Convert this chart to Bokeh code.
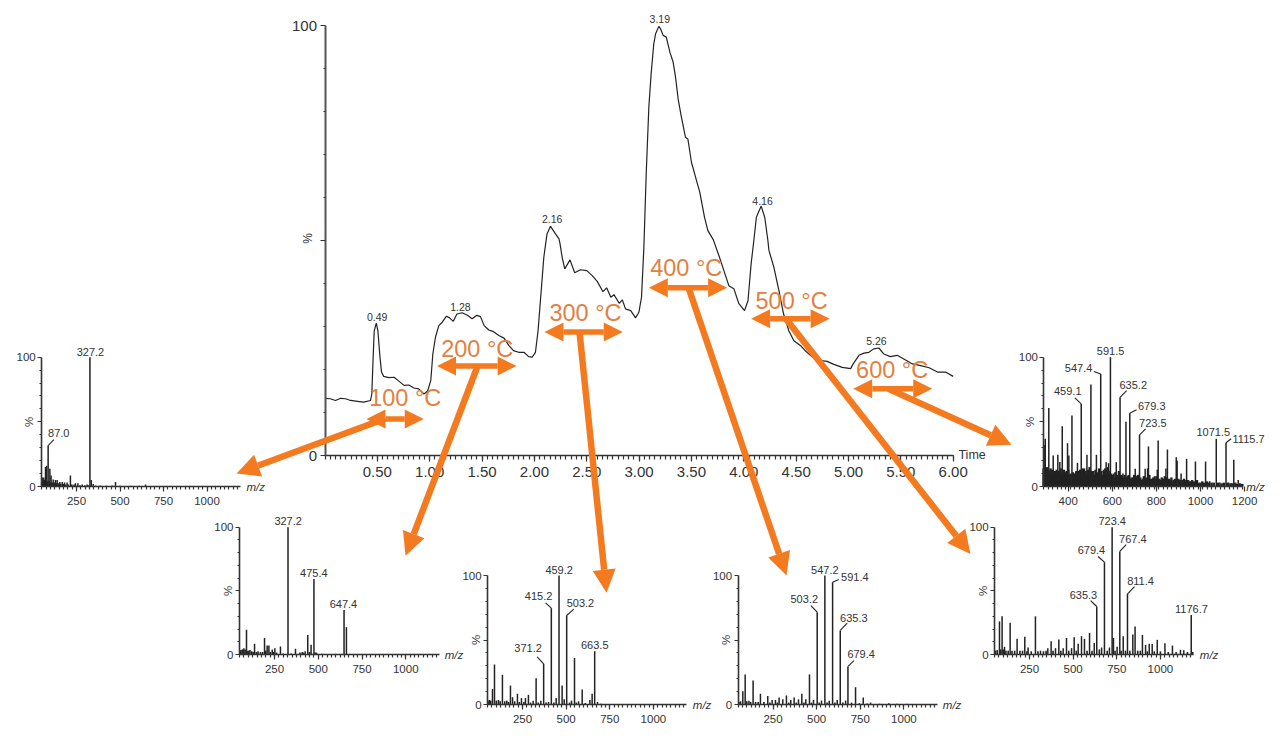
from bokeh.core.properties import value
from bokeh.embed import file_html
from bokeh.models import Arrow, FixedTicker, LinearAxis, NormalHead, NumeralTickFormatter, Range1d
from bokeh.plotting import figure
from bokeh.resources import INLINE

# chromatogram (time in min, relative intensity in %)
tic_time = [0.00, 0.05, 0.10, 0.15, 0.195, 0.245, 0.31, 0.37, 0.435, 0.447, 0.46, 0.47, 0.49, 0.505, 0.525, 0.54,
            0.56, 0.61, 0.66, 0.705, 0.755, 0.80, 0.85, 0.895, 0.945, 0.98, 1.01, 1.03, 1.055, 1.087, 1.12, 1.16,
            1.19, 1.225, 1.26, 1.31, 1.36, 1.405, 1.45, 1.485, 1.52, 1.565, 1.61, 1.66, 1.71, 1.755, 1.80, 1.85,
            1.90, 1.945, 1.98, 2.01, 2.035, 2.06, 2.09, 2.12, 2.154, 2.20, 2.235, 2.245, 2.265, 2.29, 2.34, 2.385,
            2.44, 2.50, 2.55, 2.60, 2.655, 2.69, 2.73, 2.76, 2.81, 2.84, 2.87, 2.92, 2.966, 2.998, 3.023, 3.045,
            3.068, 3.093, 3.115, 3.14, 3.157, 3.188, 3.205, 3.23, 3.26, 3.294, 3.325, 3.348, 3.373, 3.402, 3.443,
            3.466, 3.50, 3.54, 3.58, 3.625, 3.657, 3.708, 3.762, 3.81, 3.857, 3.905, 3.953, 4.007, 4.04, 4.07,
            4.096, 4.12, 4.166, 4.20, 4.23, 4.24, 4.287, 4.335, 4.38, 4.43, 4.478, 4.54, 4.59, 4.65, 4.717, 4.796,
            4.86, 4.94, 5.02, 5.045, 5.10, 5.147, 5.195, 5.24, 5.29, 5.338, 5.40, 5.465, 5.545, 5.61, 5.69, 5.77,
            5.85, 5.926, 6.00]
tic_pct = [13.3, 13.2, 12.8, 13.3, 13.2, 12.8, 12.6, 12.4, 12.8, 14.3, 22.9, 29.0, 30.8, 29.0, 22.9, 19.4,
           18.4, 18.1, 18.2, 17.3, 16.3, 16.4, 15.7, 15.5, 14.3, 15.0, 17.4, 23.6, 27.5, 30.2, 31.0, 32.4,
           32.0, 31.2, 32.9, 33.2, 32.6, 31.8, 32.6, 32.3, 30.2, 29.2, 28.8, 27.9, 27.3, 25.6, 24.4, 24.0,
           24.0, 23.0, 22.9, 24.0, 29.0, 36.8, 46.1, 51.5, 53.3, 51.6, 50.4, 49.2, 46.1, 43.4, 45.5, 42.5,
           43.2, 43.0, 41.9, 40.5, 38.1, 39.0, 36.8, 37.4, 35.4, 36.2, 34.1, 33.7, 32.0, 33.3, 36.8, 48.0,
           65.5, 81.0, 88.8, 95.7, 98.0, 99.8, 99.2, 97.7, 97.3, 93.8, 91.5, 88.0, 82.9, 79.0, 74.0,
           73.6, 68.2, 64.7, 61.2, 55.4, 52.3, 50.2, 46.5, 43.0, 39.5, 38.8, 35.3, 33.7, 36.0, 44.6,
           50.0, 55.4, 58.0, 55.4, 50.0, 47.7, 43.8, 38.4, 32.9, 29.0, 26.7, 25.6, 24.3, 23.0, 22.1, 21.9,
           21.2, 20.5, 20.2, 21.3, 23.3, 23.8, 24.0, 24.8, 25.0, 23.6, 23.0, 23.3, 22.2, 21.3, 20.9, 20.4,
           19.4, 19.4, 18.4]
tic_label_text = ["0.49", "1.28", "2.16", "3.19", "4.16", "5.26"]
tic_label_time = [0.498, 1.294, 2.17, 3.198, 4.179, 5.267]
tic_label_pct = [32.3, 34.5, 54.9, 101.4, 59.3, 26.7]

# temperature steps: text, span of the double arrow, end of the long arrow
temp_text = ["100 °C", "200 °C", "300 °C", "400 °C", "500 °C", "600 °C"]
temp_text_time = [0.766, 1.454, 2.488, 3.45, 4.456, 5.417]
temp_text_pct = [13.3, 24.8, 33.1, 43.6, 36.0, 19.8]
span_start = [0.396, 1.07, 2.096, 3.093, 4.07, 5.045]
span_end = [0.943, 1.83, 2.844, 3.841, 4.82, 5.80]
span_pct = [8.5, 20.8, 28.7, 39.0, 31.8, 15.5]
link_start_time = [0.578, 1.456, 2.431, 3.472, 4.398, 5.382]
link_start_pct = [8.6, 20.7, 28.6, 39.0, 31.9, 15.5]
link_end_time = [-0.845, 0.769, 2.689, 4.408, 6.165, 6.557]
link_end_pct = [-4.2, -23.3, -31.9, -27.9, -22.9, 2.5]

# spectrum at 100 C
s1_mz = [53, 62, 72, 78, 87.0, 97, 104, 116, 129, 139, 154, 168, 181, 196, 215, 244, 258, 283, 311, 327.2, 335, 346, 474, 647]
s1_pct = [7, 7, 15, 16, 31.7, 13.7, 8.5, 5.5, 5, 5, 3.5, 3.5, 3, 3, 8.5, 2.5, 2.5, 1.5, 1.5, 100, 5, 2, 3.4, 1.5]
s1_grass_mz = [50, 57, 67, 83, 92, 101, 110, 122, 134, 146, 160, 175, 188, 203, 223, 236, 270, 298, 320, 360, 385, 420, 455, 500, 560, 610, 690, 780]
s1_grass_pct = [3, 4, 5, 4, 4, 3, 3, 3, 2.5, 2.5, 2, 2, 1.5, 1.5, 1.5, 1.5, 1, 1, 1, 0.8, 0.8, 0.6, 0.8, 0.6, 0.5, 0.5, 0.4, 0.4]
s1_text = ["327.2", "87.0"]
s1_text_mz = [330, 148]
s1_text_pct = [104.4, 41.5]
s1_leader_mz = [87.0]
s1_leader_pct = [31.7]
s1_leader_end_mz = [120]
s1_leader_end_pct = [36.3]

# spectrum at 200 C
s2_mz = [65, 75, 90, 110, 136, 193, 208, 218, 237, 252, 284, 327.2, 370, 408, 425, 440, 459, 475.4, 490, 647.4, 661]
s2_pct = [4, 5, 19.4, 3.5, 8.4, 13, 7, 7, 4, 5, 6.3, 100, 4.5, 2, 2.5, 15.4, 7.6, 59.4, 1.5, 35, 21.5]
s2_grass_mz = [52, 58, 70, 82, 98, 104, 120, 128, 146, 156, 170, 182, 200, 226, 244, 262, 300, 345, 395, 415, 450, 482, 520, 600, 680]
s2_grass_pct = [3, 3.5, 4, 4, 3, 3, 2.5, 2, 2, 2.5, 2, 2, 3, 2, 2, 1.5, 0.8, 0.8, 1.5, 1.5, 2, 1.5, 0.6, 0.5, 0.5]
s2_text = ["327.2", "475.4", "647.4"]
s2_text_mz = [328, 475, 644]
s2_text_pct = [105, 64, 39.5]

# spectrum at 300 C
s3_mz = [78, 89.5, 135, 181, 193, 221, 244, 267, 284, 311, 328, 355, 371.2, 399, 415.2, 443, 459.2, 477, 489,
         503.2, 531, 548, 571, 592, 636, 649, 663.5, 680]
s3_pct = [12, 31, 23, 14.7, 5.7, 8.3, 5, 5, 7.5, 3, 20.4, 3, 31.5, 2, 74.7, 5, 100, 14.7, 4,
          69, 3, 36, 2.5, 11.6, 3.5, 8.3, 41.3, 2]
s3_grass_mz = [52, 60, 68, 100, 112, 122, 148, 160, 170, 205, 232, 258, 296, 340, 385, 430, 520, 558, 610, 700]
s3_grass_pct = [3, 3.5, 3, 3, 3.5, 2.5, 2.5, 3, 2, 2.5, 2, 2, 1.5, 1.5, 1.5, 1.5, 1.5, 1.5, 1.2, 0.5]
s3_text = ["459.2", "415.2", "503.2", "371.2", "663.5"]
s3_text_mz = [460, 342, 582, 282, 664]
s3_text_pct = [104.4, 84, 79, 43.7, 46]
s3_leader_mz = [415.2, 503.2, 371.2]
s3_leader_pct = [74.7, 69, 31.5]
s3_leader_end_mz = [382, 544, 334]
s3_leader_end_pct = [78.8, 74, 37]

# spectrum at 400 C
s4_mz = [77, 90.5, 112, 136, 178, 220, 245, 264, 285, 306, 327, 352, 371, 396, 415, 438, 459, 482, 503.2, 528,
         547.2, 572, 591.4, 618, 635.3, 666, 679.4, 723, 767, 809, 914]
s4_pct = [10.3, 23.3, 3, 18.6, 8.3, 6.5, 3.5, 3.5, 5.5, 4, 7, 3.5, 5.5, 4, 8.3, 4, 23.3, 3.5, 71.6, 3,
          100, 3, 94.8, 3.5, 57.4, 3, 29.5, 13.4, 5.4, 1.5, 1]
s4_grass_mz = [55, 64, 100, 122, 150, 165, 198, 232, 275, 340, 383, 427, 470, 515, 560, 605, 650, 700, 745, 790, 860, 960, 1020]
s4_grass_pct = [2, 2.5, 2.5, 2, 2, 2, 2, 1.5, 1.5, 1.5, 1.5, 1.5, 1.5, 1.5, 1.5, 1.5, 1.5, 1.5, 1, 0.8, 0.6, 0.5, 0.5]
s4_text = ["547.2", "591.4", "503.2", "635.3", "679.4"]
s4_text_mz = [547, 719, 429, 713, 755]
s4_text_pct = [104.4, 99.2, 81.4, 67.4, 39.5]
s4_leader_mz = [591.4, 503.2, 635.3, 679.4]
s4_leader_pct = [94.8, 71.6, 57.4, 29.5]
s4_leader_end_mz = [627, 467, 675, 714]
s4_leader_end_pct = [96.9, 76.7, 63, 34]

# spectrum at 500 C
s5_mz = [78, 93, 107, 139, 179, 223, 242, 284, 313, 355, 374, 399, 418, 443, 462, 491, 506, 529, 548, 565, 594,
         621, 635.3, 663, 679.4, 708, 723.4, 731, 752, 767.4, 787, 811.4, 842, 855, 897, 915, 936, 953, 982,
         1026, 1069, 1115, 1134, 1176.7]
s5_pct = [26, 30, 6, 25, 12.3, 14, 5.5, 30, 3, 5, 10.5, 5, 11.8, 5, 13, 5, 13.6, 8.4, 14.4, 12.3, 17,
          9, 37.7, 5.5, 72.5, 5.5, 100, 13, 6, 81, 14.4, 47.6, 15.7, 22, 15.4, 7.6, 8.5, 8.3, 11.5,
          8.9, 7, 3.7, 3.3, 31]
s5_grass_mz = [55, 65, 85, 100, 115, 128, 150, 165, 195, 210, 235, 260, 298, 330, 345, 385, 430, 475, 518, 580, 608, 650, 695, 740, 775, 800, 825, 870, 885, 925, 965, 1000, 1045, 1090, 1155, 1185]
s5_grass_pct = [3, 3.5, 4, 4, 3, 3, 3, 3, 3, 3, 2.5, 2.5, 2.5, 2.5, 3, 3, 3, 3, 3, 3, 3, 4, 3, 3, 3, 3, 3, 3, 3, 2.5, 2.5, 2.5, 2, 2, 2, 2]
s5_text = ["723.4", "767.4", "679.4", "811.4", "635.3", "1176.7"]
s5_text_mz = [724, 842, 605, 886, 559, 1178]
s5_text_pct = [105, 90.8, 81.7, 58, 47, 35.6]
s5_leader_mz = [767.4, 679.4, 811.4, 635.3]
s5_leader_pct = [81, 72.5, 47.6, 37.7]
s5_leader_end_mz = [804, 643, 852, 600]
s5_leader_end_pct = [86.4, 77, 53.4, 42.4]

# spectrum at 600 C
s6_mz = [291, 296, 312, 332, 353, 362, 373, 397, 403, 417, 433, 442, 459.1, 474, 485, 503, 516, 528, 547.4, 560,
         572, 583, 591.5, 606, 618, 635.2, 648, 662, 679.3, 690, 704, 723.5, 735, 749, 760, 764, 791, 804, 808,
         826, 843, 850, 872, 890, 894, 912, 937, 956, 977, 1000, 1023, 1042, 1071.5, 1088, 1115.7, 1128, 1151,
         1171, 1186]
s6_pct = [32, 36.9, 60.8, 24, 24.5, 19, 46.6, 33.5, 24, 54.9, 11, 18.3, 63.9, 14, 24.5, 78.9, 12, 24.5, 87, 13,
          18.8, 18, 100, 10, 18.8, 69, 10, 50, 56.7, 5, 13.7, 40, 5, 13.7, 14, 31, 8, 13, 35.6,
          6, 14, 28.6, 4, 22.7, 20, 10, 21.4, 4, 19.3, 3, 19.3, 4, 36.9, 3, 33.8, 3, 20.6,
          5, 2]
s6_grass_mz = [288, 293, 299, 303, 307, 316, 320, 324, 328, 336, 340, 344, 348, 357, 366, 369, 377, 381, 385, 389, 393,
               400, 407, 411, 421, 425, 429, 437, 446, 450, 454, 463, 467, 470, 478, 481, 489, 493, 497, 500, 507, 511,
               520, 524, 532, 536, 540, 544, 551, 555, 564, 568, 576, 580, 587, 595, 599, 602, 610, 614, 622, 626, 630,
               639, 643, 652, 656, 666, 670, 674, 683, 687, 695, 699, 708, 712, 716, 720, 727, 731, 739, 743, 753, 757,
               768, 772, 780, 786, 796, 800, 812, 818, 824, 832, 838, 846, 856, 862, 868, 878, 884, 900, 906, 918, 925,
               931, 944, 950, 962, 970, 984, 992, 1008, 1016, 1030, 1036, 1050, 1060, 1080, 1096, 1106, 1122, 1136, 1144,
               1158, 1166, 1178, 1190]
s6_grass_pct = [14, 13, 12, 15, 13, 12, 14, 10, 13, 11, 12, 9, 13, 12, 14, 10, 12, 13, 9, 11, 12,
                13, 9, 10, 11, 8, 10, 12, 12, 10, 13, 12, 14, 11, 12, 9, 13, 10, 15, 11, 12, 10,
                9, 13, 11, 9, 14, 10, 12, 9, 11, 14, 10, 15, 12, 10, 8, 9, 7, 11, 9, 8, 12,
                9, 8, 7, 9, 7, 8, 9, 6, 7, 7, 9, 8, 6, 9, 7, 7, 5, 6, 8, 6, 7,
                9, 6, 6, 7, 6, 8, 6, 5, 7, 6, 8, 7, 6, 5, 7, 5, 6, 6, 5, 5, 6,
                5, 5, 4, 5, 4, 5, 3, 4, 3, 4, 3, 3, 3, 3, 2.5, 3, 3, 2.5, 2.5,
                3, 2, 2.5, 2]
s6_text = ["591.5", "547.4", "459.1", "635.2", "679.3", "723.5", "1071.5", "1115.7"]
s6_text_mz = [592, 447, 398, 695, 779, 784, 1058, 1218]
s6_text_pct = [104.6, 91.8, 73.5, 78.6, 61.9, 49.2, 42.5, 36.9]
s6_leader_mz = [547.4, 459.1, 635.2, 679.3, 723.5, 1115.7]
s6_leader_pct = [87, 63.9, 69, 56.7, 40, 33.8]
s6_leader_end_mz = [516, 430, 665, 710, 751, 1139]
s6_leader_end_pct = [89, 68.6, 74.2, 59.3, 44.6, 36.9]

WIDTH, HEIGHT = 1272, 731
ORANGE = "#f47a20"
TEXT = "#333333"
FONT = value("Liberation Sans")
AXIS_FONT = "Liberation Sans"


def page_x(value_a, px_a, value_b, px_b):
    # range over the whole frame that puts two values on two page pixels
    scale = (value_b - value_a) / (px_b - px_a)
    return Range1d(value_a - px_a * scale, value_a + (WIDTH - px_a) * scale)


def page_y(value_a, py_a, value_b, py_b):
    scale = (value_b - value_a) / (py_b - py_a)
    return Range1d(value_a + (HEIGHT - py_a) * scale, value_a - py_a * scale)


p = figure(width=WIDTH, height=HEIGHT, output_backend="svg", toolbar_location=None,
           x_axis_location=None, y_axis_location=None, min_border=0,
           x_range=page_x(0, 324.5, 6, 952.7), y_range=page_y(0, 455, 100, 25))
p.outline_line_color = None
p.grid.visible = False
p.background_fill_color = "white"
p.border_fill_color = "white"


def style_axis(axis, size):
    axis.axis_line_color = "#333333"
    axis.axis_line_width = 1.3
    axis.major_tick_line_color = "#333333"
    axis.minor_tick_line_color = "#333333"
    axis.major_tick_line_width = 1.2
    axis.minor_tick_line_width = 1.2
    axis.major_label_text_color = TEXT
    axis.major_label_text_font = AXIS_FONT
    axis.major_label_text_font_size = size
    axis.major_tick_in = 0
    axis.minor_tick_in = 0


# main chromatogram axes
main_x = LinearAxis(fixed_location=0, bounds=(0, 6),
                    ticker=FixedTicker(ticks=[0.5, 1, 1.5, 2, 2.5, 3, 3.5, 4, 4.5, 5, 5.5, 6],
                                       minor_ticks=[i / 20 for i in range(0, 121)]),
                    formatter=NumeralTickFormatter(format="0.00"))
style_axis(main_x, "15px")
main_x.major_tick_out = 6
main_x.minor_tick_out = 4
main_x.major_label_standoff = 5
p.add_layout(main_x, "below")

main_y = LinearAxis(fixed_location=0, bounds=(0, 100),
                    ticker=FixedTicker(ticks=[0, 50, 100], minor_ticks=[10, 20, 30, 40, 60, 70, 80, 90]),
                    major_label_overrides={50: ""})
style_axis(main_y, "15px")
main_y.axis_line_color = "#555555"
main_y.axis_line_width = 2
main_y.major_tick_out = 5
main_y.minor_tick_out = 2
main_y.major_label_standoff = 3
p.add_layout(main_y, "left")

p.line(tic_time, tic_pct, line_color="#222222", line_width=1.2)
p.text(tic_label_time, tic_label_pct, text=tic_label_text, text_font=FONT, text_font_size="10.5px",
       text_color=TEXT, text_align="center", text_baseline="middle")
p.text([-0.167], [50.5], text=["%"], angle=1.5708, text_font=FONT, text_font_size="12px",
       text_color=TEXT, text_align="center", text_baseline="middle")
p.text([6.05], [0.2], text=["Time"], text_font=FONT, text_font_size="12.5px",
       text_color=TEXT, text_align="left", text_baseline="middle")


def spectrum(name, mz_a, px_a, mz_b, px_b, py_0, py_100, mz_lim, majors, minor_step, pct_mz, unit_mz,
             mz, pct, grass_mz, grass_pct, text, text_mz, text_pct,
             leader_mz=(), leader_pct=(), leader_end_mz=(), leader_end_pct=(), grass_width=1.6):
    xname, yname = name + "_x", name + "_y"
    p.extra_x_ranges[xname] = page_x(mz_a, px_a, mz_b, px_b)
    p.extra_y_ranges[yname] = page_y(0, py_0, 100, py_100)
    where = dict(x_range_name=xname, y_range_name=yname)

    x_axis = LinearAxis(fixed_location=0, bounds=mz_lim, x_range_name=xname, y_range_name=yname,
                        ticker=FixedTicker(ticks=majors, minor_ticks=list(range(mz_lim[0], mz_lim[1] + 1, minor_step))))
    style_axis(x_axis, "11.5px")
    x_axis.axis_line_width = 1.6
    x_axis.major_tick_out = 5
    x_axis.minor_tick_out = 3
    x_axis.major_label_standoff = 5
    p.add_layout(x_axis, "below")

    y_axis = LinearAxis(fixed_location=mz_lim[0], bounds=(0, 100), x_range_name=xname, y_range_name=yname,
                        ticker=FixedTicker(ticks=[0, 50, 100], minor_ticks=[10, 20, 30, 40, 60, 70, 80, 90]),
                        major_label_overrides={50: ""})
    style_axis(y_axis, "11.5px")
    y_axis.axis_line_width = 1.6
    y_axis.major_tick_out = 4
    y_axis.minor_tick_out = 2
    y_axis.major_label_standoff = 2
    p.add_layout(y_axis, "left")

    p.segment(grass_mz, [0] * len(grass_mz), grass_mz, grass_pct, line_color="#222222", line_width=grass_width, **where)
    p.segment(mz, [0] * len(mz), mz, pct, line_color="#222222", line_width=1.5, **where)
    if len(leader_mz):
        p.segment(leader_mz, leader_pct, leader_end_mz, leader_end_pct, line_color="#222222", line_width=1.1, **where)
    p.text(text_mz, text_pct, text=text, text_font=FONT, text_font_size="11px", text_color=TEXT,
           text_align="center", text_baseline="middle", **where)
    p.text([pct_mz], [50], text=["%"], angle=1.5708, text_font=FONT, text_font_size="11.5px", text_color=TEXT,
           text_align="center", text_baseline="middle", **where)
    p.text([unit_mz], [0], text=["m/z"], text_font=FONT, text_font_size="11.5px", text_font_style="italic",
           text_color=TEXT, text_align="left", text_baseline="middle", **where)


LOW_MAJORS = [250, 500, 750, 1000]
spectrum("s1", 250, 76, 1000, 206.5, 486, 356.7, (50, 1190), LOW_MAJORS, 25, -24, 1227,
         s1_mz, s1_pct, s1_grass_mz, s1_grass_pct, s1_text, s1_text_mz, s1_text_pct,
         s1_leader_mz, s1_leader_pct, s1_leader_end_mz, s1_leader_end_pct)
spectrum("s2", 250, 274, 1000, 405.25, 654, 526.7, (50, 1190), LOW_MAJORS, 25, -17, 1223,
         s2_mz, s2_pct, s2_grass_mz, s2_grass_pct, s2_text, s2_text_mz, s2_text_pct)
spectrum("s3", 250, 522, 1000, 652.9, 704, 575, (50, 1190), LOW_MAJORS, 25, -19, 1226,
         s3_mz, s3_pct, s3_grass_mz, s3_grass_pct, s3_text, s3_text_mz, s3_text_pct,
         s3_leader_mz, s3_leader_pct, s3_leader_end_mz, s3_leader_end_pct)
spectrum("s4", 250, 772.5, 1000, 903.4, 704, 575, (50, 1190), LOW_MAJORS, 25, -19, 1223,
         s4_mz, s4_pct, s4_grass_mz, s4_grass_pct, s4_text, s4_text_mz, s4_text_pct,
         s4_leader_mz, s4_leader_pct, s4_leader_end_mz, s4_leader_end_pct)
spectrum("s5", 250, 1029, 1000, 1159.9, 654, 526.7, (50, 1190), LOW_MAJORS, 25, -17, 1226,
         s5_mz, s5_pct, s5_grass_mz, s5_grass_pct, s5_text, s5_text_mz, s5_text_pct,
         s5_leader_mz, s5_leader_pct, s5_leader_end_mz, s5_leader_end_pct)
spectrum("s6", 400, 1067.7, 1200, 1244.1, 486, 356.7, (290, 1190), [400, 600, 800, 1000, 1200], 20, 229, 1207,
         s6_mz, s6_pct, s6_grass_mz, s6_grass_pct, s6_text, s6_text_mz, s6_text_pct,
         s6_leader_mz, s6_leader_pct, s6_leader_end_mz, s6_leader_end_pct, grass_width=2.4)

# temperature labels and arrows go on top of everything
temp = p.text(temp_text_time, temp_text_pct, text=temp_text, text_font=FONT, text_font_size="23.5px",
              text_color="#e2813f", text_align="center", text_baseline="middle")
temp.level = "annotation"

for i in range(6):
    p.add_layout(Arrow(x_start=span_start[i], y_start=span_pct[i], x_end=span_end[i], y_end=span_pct[i],
                       line_color=ORANGE, line_width=5.5,
                       start=NormalHead(size=19, fill_color=ORANGE, line_color=ORANGE, line_width=0),
                       end=NormalHead(size=19, fill_color=ORANGE, line_color=ORANGE, line_width=0)))
    p.add_layout(Arrow(x_start=link_start_time[i], y_start=link_start_pct[i],
                       x_end=link_end_time[i], y_end=link_end_pct[i],
                       line_color=ORANGE, line_width=6.5,
                       end=NormalHead(size=23, fill_color=ORANGE, line_color=ORANGE, line_width=0)))

open("out.html", "w").write(file_html(p, INLINE))
